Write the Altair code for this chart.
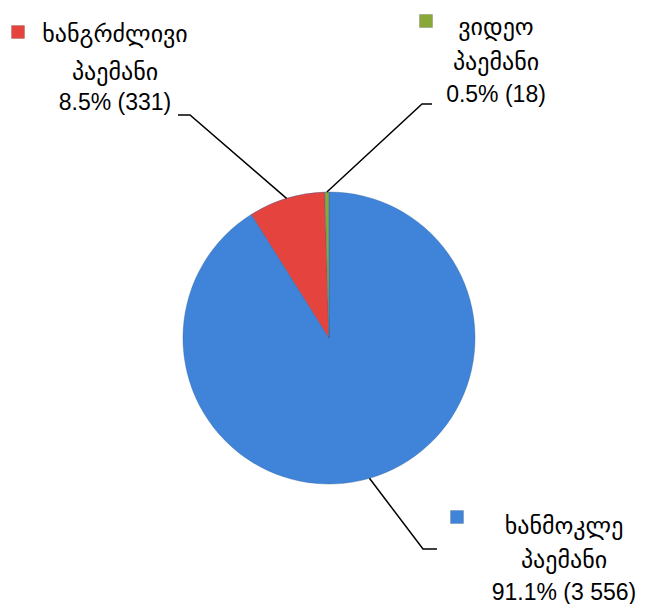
import altair as alt
import pandas as pd
import numpy as np

# data
names = ["ხანმოკლე", "ხანგრძლივი", "ვიდეო"]
second_line = ["პაემანი", "პაემანი", "პაემანი"]
counts = [3556, 331, 18]
pcts = ["91.1%", "8.5%", "0.5%"]
count_labels = ["3 556", "331", "18"]
colors = ["#3f84d8", "#e5443e", "#8aa83a"]

# layout (page pixels, minus 8px margin applied below)
W, H = 631, 596
CX, CY, R = 329, 338, 146
label_x = [564, 115, 496]
label_y = [[527, 561, 593], [35, 73, 103], [28, 63, 95]]
square_pos = [(457, 517), (18, 32), (426, 21)]
elbow = [(423, 549), (190, 115), (422, 104)]
line_end = [(437, 549), (178, 115), (432, 104)]

M = 8
total = sum(counts)
fr = np.array(counts) / total
cum = np.cumsum(fr)
mid = (cum - fr / 2) * 2 * np.pi

pie_df = pd.DataFrame({"name": names, "count": counts, "o": range(len(names))})

xs = alt.Scale(domain=[0, W], range=[0, W], nice=False, zero=False)
ys = alt.Scale(domain=[0, H], range=[0, H], nice=False, zero=False)

pie = alt.Chart(pie_df).mark_arc(outerRadius=R, stroke="#2f5f9f", strokeWidth=0.4).encode(
    theta=alt.Theta("count:Q", stack=True),
    order=alt.Order("o:Q"),
    color=alt.Color("name:N", scale=alt.Scale(domain=names, range=colors), legend=None),
    x=alt.value(CX - M),
    y=alt.value(CY - M),
)

rows = []
for i in range(len(names)):
    ax = CX + R * np.sin(mid[i])
    ay = CY - R * np.cos(mid[i])
    pts = [(ax, ay), elbow[i], line_end[i]]
    for k, (px, py) in enumerate(pts):
        rows.append({"g": i, "k": k, "px": px - M, "py": py - M})
lines_df = pd.DataFrame(rows)
leaders = alt.Chart(lines_df).mark_line(color="black", strokeWidth=1.5).encode(
    x=alt.X("px:Q", scale=xs, axis=None),
    y=alt.Y("py:Q", scale=ys, axis=None),
    detail="g:N",
    order="k:Q",
)

geo_rows = []
num_rows = []
for i in range(len(names)):
    geo_rows.append({"t": names[i], "px": label_x[i] - M, "py": label_y[i][0] - M})
    geo_rows.append({"t": second_line[i], "px": label_x[i] - M, "py": label_y[i][1] - M})
    num_rows.append({"t": f"{pcts[i]} ({count_labels[i]})", "px": label_x[i] - M, "py": label_y[i][2] - M})

geo_text = alt.Chart(pd.DataFrame(geo_rows)).mark_text(
    font="DejaVu Sans", fontSize=24, color="black", baseline="middle", align="center"
).encode(
    x=alt.X("px:Q", scale=xs, axis=None),
    y=alt.Y("py:Q", scale=ys, axis=None),
    text="t:N",
)
num_text = alt.Chart(pd.DataFrame(num_rows)).mark_text(
    font="Liberation Sans", fontSize=23, color="black", baseline="middle", align="center"
).encode(
    x=alt.X("px:Q", scale=xs, axis=None),
    y=alt.Y("py:Q", scale=ys, axis=None),
    text="t:N",
)

sq_df = pd.DataFrame({
    "name": names,
    "px": [p[0] - M for p in square_pos],
    "py": [p[1] - M for p in square_pos],
})
squares = alt.Chart(sq_df).mark_square(size=170, opacity=1, strokeWidth=0.8, stroke="#555555", strokeOpacity=0.3).encode(
    x=alt.X("px:Q", scale=xs, axis=None),
    y=alt.Y("py:Q", scale=ys, axis=None),
    color=alt.Color("name:N", scale=alt.Scale(domain=names, range=colors), legend=None),
)

chart = alt.layer(pie, leaders, squares, geo_text, num_text).properties(
    width=W, height=H, autosize=alt.AutoSizeParams(type="none"), padding=0
).configure_view(stroke=None)

chart.save("out.html", embed_options={"renderer": "svg", "actions": False})
